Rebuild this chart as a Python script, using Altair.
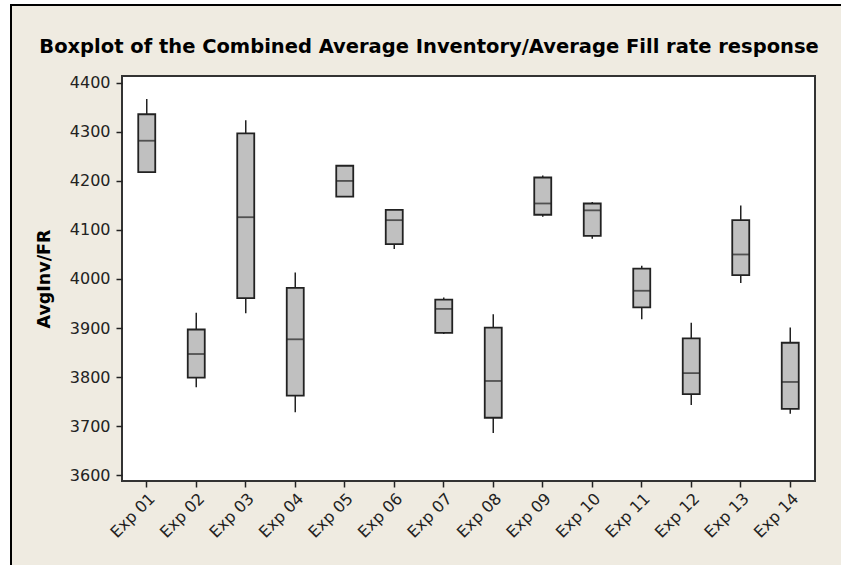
import altair as alt
import pandas as pd

# Five-number summaries per experiment
experiments = ["Exp 01", "Exp 02", "Exp 03", "Exp 04", "Exp 05", "Exp 06", "Exp 07",
               "Exp 08", "Exp 09", "Exp 10", "Exp 11", "Exp 12", "Exp 13", "Exp 14"]
whisker_low = [4218, 3779, 3930, 3728, 4168, 4061, 3888, 3686, 4127, 4082, 3918, 3743, 3992, 3725]
q1 = [4218, 3799, 3961, 3762, 4168, 4071, 3890, 3717, 4131, 4088, 3942, 3765, 4008, 3735]
median = [4282, 3847, 4126, 3877, 4200, 4120, 3939, 3792, 4154, 4140, 3976, 3808, 4050, 3790]
q3 = [4336, 3897, 4297, 3982, 4231, 4141, 3958, 3901, 4207, 4154, 4021, 3879, 4120, 3870]
whisker_high = [4367, 3931, 4324, 4013, 4231, 4143, 3962, 3928, 4211, 4157, 4027, 3911, 4150, 3901]
y_ticks = [3600, 3700, 3800, 3900, 4000, 4100, 4200, 4300, 4400]
title_text = ["Boxplot of the Combined Average Inventory/Average Fill rate response"]

df = pd.DataFrame({
    "exp": experiments, "lo": whisker_low, "q1": q1, "med": median,
    "q3": q3, "hi": whisker_high,
})

W, H = 693, 405
BEIGE = "#EFEBE1"
INK = "#222222"
FONT = "DejaVu Sans"

x_enc = alt.X("exp:N", sort=experiments, title=None,
              scale=alt.Scale(paddingInner=0, paddingOuter=0),
              axis=alt.Axis(labelAngle=-45, labelFont=FONT, labelFontSize=16,
                            labelColor=INK, tickColor=INK, tickSize=6, tickWidth=1.5,
                            domain=False, labelPadding=3, zindex=1))
y_scale = alt.Scale(domain=[3588, 4414], nice=False, zero=False)
y_axis = alt.Axis(values=y_ticks, format="d", labelFont=FONT, labelFontSize=16,
                  labelColor=INK, tickColor=INK, tickSize=6, tickWidth=1.5, domain=False,
                  grid=False, labelPadding=6, title="AvgInv/FR", titleFont=FONT,
                  titleFontSize=17.5, titleFontWeight="bold", titleColor="#000000",
                  titlePadding=16, zindex=1)

one = pd.DataFrame({"k": [0]})

# Outer beige panel with its black frame line
panel = alt.Chart(one).mark_rect(fill=BEIGE, stroke="#000000", strokeWidth=2).encode(
    x=alt.value(-111), x2=alt.value(760), y=alt.value(-71), y2=alt.value(600))

# White data region with its dark border
plot_bg = alt.Chart(one).mark_rect(fill="white", stroke="#333333", strokeWidth=2).encode(
    x=alt.value(0), x2=alt.value(W), y=alt.value(0), y2=alt.value(H))

# Chart heading, drawn as a text mark above the data region
heading = alt.Chart(pd.DataFrame({"t": title_text})).mark_text(
    font=FONT, fontSize=19.5, fontWeight="bold", color="#000000",
    align="center", baseline="alphabetic").encode(
    text="t:N", x=alt.value(307), y=alt.value(-23))

base = alt.Chart(df)
whiskers = base.mark_rule(color=INK, strokeWidth=1.5).encode(
    x=x_enc, y=alt.Y("lo:Q", scale=y_scale, axis=y_axis), y2="hi:Q")
boxes = base.mark_bar(size=17, fill="#C0C0C0", stroke=INK, strokeWidth=1.8).encode(
    x=alt.X("exp:N", sort=experiments), y="q1:Q", y2="q3:Q")
medians = base.mark_tick(size=17, thickness=1.8, color=INK).encode(
    x=alt.X("exp:N", sort=experiments), y="med:Q")

chart = alt.layer(panel, plot_bg, heading, whiskers, boxes, medians).properties(
    width=W, height=H,
    autosize=alt.AutoSizeParams(type="none"),
    padding={"left": 122, "top": 76, "right": 26, "bottom": 84},
    background="white",
).configure_view(stroke=None)

chart.save("out.html", embed_options={"renderer": "svg", "actions": False})
